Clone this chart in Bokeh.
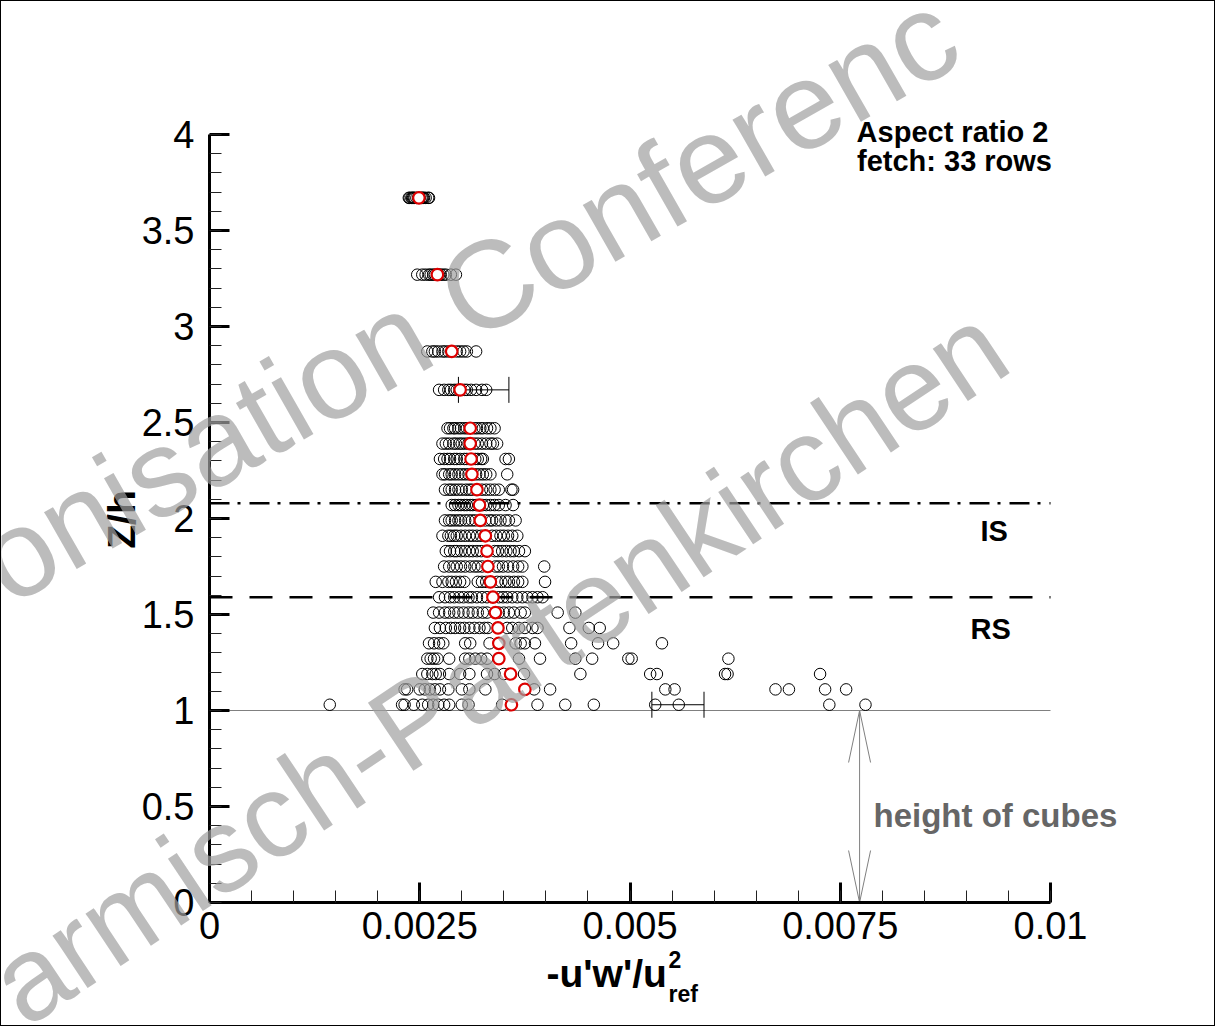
import math
from bokeh.plotting import figure
from bokeh.models import (ColumnDataSource, Label, SingleIntervalTicker,
                          CustomJSTickFormatter, LinearAxis)
from bokeh.embed import file_html
from bokeh.resources import INLINE

# ---------------- data ----------------
z_levels = [3.67, 3.27, 2.87, 2.67, 2.47, 2.39, 2.31, 2.23, 2.15, 2.07, 1.99, 1.91,
            1.83, 1.75, 1.67, 1.59, 1.51, 1.43, 1.35, 1.27, 1.19, 1.11, 1.03]

uw_z367 = [0.00237, 0.00238, 0.00240, 0.00241, 0.00242, 0.00243, 0.00244, 0.00246, 0.00248,
           0.00250, 0.00252, 0.00253, 0.00254, 0.00255, 0.00257, 0.00260, 0.00261]
uw_z327 = [0.00247, 0.00253, 0.00257, 0.00261, 0.00263, 0.00266, 0.00268, 0.00273, 0.00275,
           0.00278, 0.00281, 0.00287, 0.00293]
uw_z287 = [0.00259, 0.00265, 0.00268, 0.00272, 0.00277, 0.00280, 0.00284, 0.00294, 0.00298,
           0.00302, 0.00306, 0.00317]
uw_z267 = [0.00273, 0.00279, 0.00284, 0.00287, 0.00291, 0.00294, 0.00303, 0.00306, 0.00311,
           0.00317, 0.00324, 0.00329]
uw_z247 = [0.00283, 0.00286, 0.00290, 0.00292, 0.00296, 0.00299, 0.00303, 0.00306, 0.00315,
           0.00318, 0.00322, 0.00325, 0.00330, 0.00334, 0.00339]
uw_z239 = [0.00277, 0.00281, 0.00285, 0.00290, 0.00293, 0.00297, 0.00300, 0.00304, 0.00308,
           0.00315, 0.00319, 0.00324, 0.00329, 0.00334, 0.00337, 0.00342]
uw_z231 = [0.00274, 0.00279, 0.00283, 0.00286, 0.00291, 0.00294, 0.00298, 0.00303, 0.00306,
           0.00316, 0.00319, 0.00323, 0.00325, 0.00352, 0.00356]
uw_z223 = [0.00277, 0.00280, 0.00285, 0.00288, 0.00292, 0.00296, 0.00300, 0.00304, 0.00308,
           0.00317, 0.00321, 0.00325, 0.00329, 0.00334, 0.00354]
uw_z215 = [0.00280, 0.00285, 0.00288, 0.00292, 0.00296, 0.00300, 0.00305, 0.00309, 0.00312,
           0.00324, 0.00329, 0.00334, 0.00339, 0.00344, 0.00359, 0.00361]
uw_z207 = [0.00288, 0.00292, 0.00296, 0.00299, 0.00303, 0.00306, 0.00310, 0.00313, 0.00317,
           0.00325, 0.00329, 0.00334, 0.00339, 0.00344, 0.00352, 0.00361]
uw_z199 = [0.00280, 0.00285, 0.00288, 0.00292, 0.00296, 0.00299, 0.00304, 0.00308, 0.00312,
           0.00316, 0.00328, 0.00333, 0.00336, 0.00341, 0.00346, 0.00352, 0.00356, 0.00364]
uw_z191 = [0.00277, 0.00284, 0.00287, 0.00291, 0.00294, 0.00299, 0.00304, 0.00309, 0.00313,
           0.00318, 0.00323, 0.00336, 0.00341, 0.00346, 0.00350, 0.00355, 0.00360, 0.00366]
uw_z183 = [0.00281, 0.00286, 0.00291, 0.00294, 0.00299, 0.00304, 0.00309, 0.00313, 0.00318,
           0.00323, 0.00339, 0.00343, 0.00348, 0.00353, 0.00358, 0.00362, 0.00368, 0.00375]
uw_z175 = [0.00279, 0.00285, 0.00290, 0.00294, 0.00299, 0.00304, 0.00310, 0.00315, 0.00319,
           0.00324, 0.00340, 0.00344, 0.00349, 0.00355, 0.00361, 0.00367, 0.00372, 0.00398]
uw_z167 = [0.00269, 0.00277, 0.00284, 0.00288, 0.00293, 0.00298, 0.00303, 0.00319, 0.00324,
           0.00329, 0.00342, 0.00347, 0.00352, 0.00356, 0.00362, 0.00367, 0.00372, 0.00399]
uw_z159 = [0.00273, 0.00280, 0.00286, 0.00291, 0.00297, 0.00302, 0.00308, 0.00312, 0.00318,
           0.00324, 0.00330, 0.00344, 0.00349, 0.00354, 0.00360, 0.00366, 0.00372, 0.00378,
           0.00384, 0.00390, 0.00396]
uw_z151 = [0.00266, 0.00273, 0.00280, 0.00285, 0.00291, 0.00296, 0.00302, 0.00308, 0.00313,
           0.00319, 0.00325, 0.00330, 0.00344, 0.00350, 0.00356, 0.00362, 0.00370, 0.00375,
           0.00414, 0.00435]
uw_z143 = [0.00268, 0.00274, 0.00281, 0.00287, 0.00292, 0.00298, 0.00303, 0.00309, 0.00315,
           0.00321, 0.00327, 0.00331, 0.00354, 0.00360, 0.00368, 0.00375, 0.00384, 0.00390,
           0.00428, 0.00451, 0.00464]
uw_z135 = [0.00261, 0.00267, 0.00273, 0.00278, 0.00304, 0.00310, 0.00333, 0.00364, 0.00370,
           0.00375, 0.00387, 0.00430, 0.00462, 0.00480, 0.00538]
uw_z127 = [0.00259, 0.00263, 0.00267, 0.00271, 0.00285, 0.00304, 0.00309, 0.00316, 0.00323,
           0.00330, 0.00368, 0.00393, 0.00435, 0.00455, 0.00498, 0.00502, 0.00617]
uw_z119 = [0.00253, 0.00259, 0.00265, 0.00269, 0.00274, 0.00285, 0.00298, 0.00309, 0.00330,
           0.00339, 0.00350, 0.00374, 0.00441, 0.00524, 0.00532, 0.00613, 0.00616, 0.00726]
uw_z111 = [0.00232, 0.00235, 0.00250, 0.00256, 0.00262, 0.00268, 0.00274, 0.00284, 0.00300,
           0.00309, 0.00328, 0.00386, 0.00405, 0.00542, 0.00553, 0.00673, 0.00689, 0.00732,
           0.00757]
uw_z103 = [0.00143, 0.00229, 0.00232, 0.00243, 0.00253, 0.00260, 0.00266, 0.00272, 0.00279,
           0.00285, 0.00300, 0.00308, 0.00348, 0.00390, 0.00423, 0.00457, 0.00530, 0.00558,
           0.00737, 0.00780]

uw_rows = [uw_z367, uw_z327, uw_z287, uw_z267, uw_z247, uw_z239, uw_z231, uw_z223,
           uw_z215, uw_z207, uw_z199, uw_z191, uw_z183, uw_z175, uw_z167, uw_z159,
           uw_z151, uw_z143, uw_z135, uw_z127, uw_z119, uw_z111, uw_z103]

uw_mean = [0.00249, 0.00271, 0.00288, 0.00298, 0.00310, 0.00310, 0.00311, 0.00312, 0.00318,
           0.00321, 0.00322, 0.00328, 0.00330, 0.00331, 0.00334, 0.00337, 0.00340, 0.00343,
           0.00344, 0.00344, 0.00358, 0.00375, 0.00359]

err_z = [2.67, 1.03]
err_lo = [0.00296, 0.00526]
err_hi = [0.00356, 0.00588]

z_is = 2.08      # top of inertial sublayer
z_rs = 1.59      # top of roughness sublayer
z_cube = 1.0     # cube height
arrow_x = 0.00773

x_ticks_interval = 0.0025
y_ticks_interval = 0.5

# ---------------- layout constants ----------------
W, H = 1215, 1026           # canvas (plus 1px css border = 1217 x 1028)
PX_PER_X = 84100.0
PX_PER_Y = 192.0
X0_C = 208                  # canvas px of x = 0
Y0_C = 901                  # canvas px (from top) of y = 0


def dx(px):                 # page pixel -> data x
    return (px - 1 - X0_C) / PX_PER_X


def dy(py):                 # page pixel -> data y
    return (Y0_C - (py - 1)) / PX_PER_Y


FONT = "Liberation Sans"

p = figure(width=W, height=H, output_backend="svg", toolbar_location=None, title=None,
           x_range=(-X0_C / PX_PER_X, (W - X0_C) / PX_PER_X),
           y_range=(-(H - Y0_C) / PX_PER_Y, Y0_C / PX_PER_Y),
           x_axis_location=None, y_axis_location=None,
           min_border=0, min_border_left=0, min_border_right=0,
           min_border_top=0, min_border_bottom=0,
           background_fill_color="white", border_fill_color="white",
           outline_line_color=None,
           styles={"border": "1px solid black"})
p.grid.visible = False


def make_axis(interval, bounds, standoff):
    ax = LinearAxis(fixed_location=0, bounds=bounds,
                    ticker=SingleIntervalTicker(interval=interval, num_minor_ticks=5),
                    formatter=CustomJSTickFormatter(
                        code="return Number(tick.toFixed(6)).toString();"))
    ax.axis_line_width = 3
    ax.axis_line_color = "black"
    ax.major_tick_line_width = 3
    ax.major_tick_in = 20
    ax.major_tick_out = 0
    ax.minor_tick_in = 12
    ax.minor_tick_out = 0
    ax.minor_tick_line_width = 1
    ax.minor_tick_line_color = "#222222"
    ax.major_label_text_font = FONT
    ax.major_label_text_font_size = "38px"
    ax.major_label_text_color = "black"
    ax.major_label_standoff = standoff
    return ax


p.add_layout(make_axis(x_ticks_interval, (0, 0.01), 9), "below")
p.add_layout(make_axis(y_ticks_interval, (0, 4), 15), "left")

# reference lines
p.segment(x0=[0], y0=[z_is], x1=[0.01], y1=[z_is], line_color="black", line_width=2.5,
          line_dash="20 8 3 9")
p.segment(x0=[0], y0=[z_rs], x1=[0.01], y1=[z_rs], line_color="black", line_width=2.5,
          line_dash="23 17")
p.segment(x0=[0], y0=[z_cube], x1=[0.01], y1=[z_cube], line_color="#808080", line_width=1)

# scatter of all profiles
xs, ys = [], []
for z, row in zip(z_levels, uw_rows):
    xs.extend(row)
    ys.extend([z] * len(row))
src = ColumnDataSource(dict(x=xs, y=ys))
p.scatter("x", "y", source=src, marker="circle", size=11.5, fill_color=None,
          line_color="black", line_width=1)

# error bars
cap = 13 / PX_PER_Y
p.segment(x0=err_lo, y0=err_z, x1=err_hi, y1=err_z, line_color="black", line_width=1)
p.segment(x0=err_lo, y0=[z - cap for z in err_z], x1=err_lo, y1=[z + cap for z in err_z],
          line_color="black", line_width=1)
p.segment(x0=err_hi, y0=[z - cap for z in err_z], x1=err_hi, y1=[z + cap for z in err_z],
          line_color="black", line_width=1)

# mean values
p.scatter(uw_mean, z_levels, marker="circle", size=11.5, fill_color="white",
          line_color="#dd0000", line_width=2.2)

# double arrow: height of cubes
ah_len = 52 / PX_PER_Y
ah_w = 11 / PX_PER_X
p.segment(x0=[arrow_x], y0=[0], x1=[arrow_x], y1=[z_cube], line_color="#808080", line_width=1)
p.segment(x0=[arrow_x - ah_w, arrow_x + ah_w, arrow_x - ah_w, arrow_x + ah_w],
          y0=[z_cube - ah_len, z_cube - ah_len, ah_len, ah_len],
          x1=[arrow_x, arrow_x, arrow_x, arrow_x],
          y1=[z_cube, z_cube, 0, 0], line_color="#808080", line_width=1)

BASE_FIX = 0.3   # renderer draws alphabetic baseline ~0.3 em low; compensate


def label(text, px, py, size, bold=True, color="black", align="left",
          angle=0.0, alpha=1.0):
    # shift anchor "up" (in the text's own frame) by BASE_FIX * size
    sx = px - BASE_FIX * size * math.sin(angle)
    sy = py - BASE_FIX * size * math.cos(angle)
    p.add_layout(Label(x=dx(sx), y=dy(sy), text=text, text_font=FONT,
                       text_font_size=f"{size}px",
                       text_font_style="bold" if bold else "normal",
                       text_color=color, text_align=align, text_baseline="alphabetic",
                       angle=angle, text_alpha=alpha))


label("Aspect ratio 2", 952, 140, 29, align="center")
label("fetch: 33 rows", 954, 169, 29, align="center")
label("IS", 980, 539, 29)
label("RS", 970, 637, 29)
label("height of cubes", 873, 825, 33, color="#666666")

# axis titles
label("Z/h", 133, 519, 39, align="center", angle=math.pi / 2)
label("-u'w'/u", 546, 985, 39)
label("2", 668, 966, 23)
label("ref", 668, 1000, 23)

# watermark
label("onisation Conferenc", 6, 602, 124, bold=False, color="#a0a0a0",
      angle=math.radians(29.7), alpha=0.7)
label("armisch-Partenkirchen", 22, 1024, 119, bold=False, color="#a0a0a0",
      angle=math.radians(33.7), alpha=0.7)

open("out.html", "w").write(file_html(p, INLINE))
